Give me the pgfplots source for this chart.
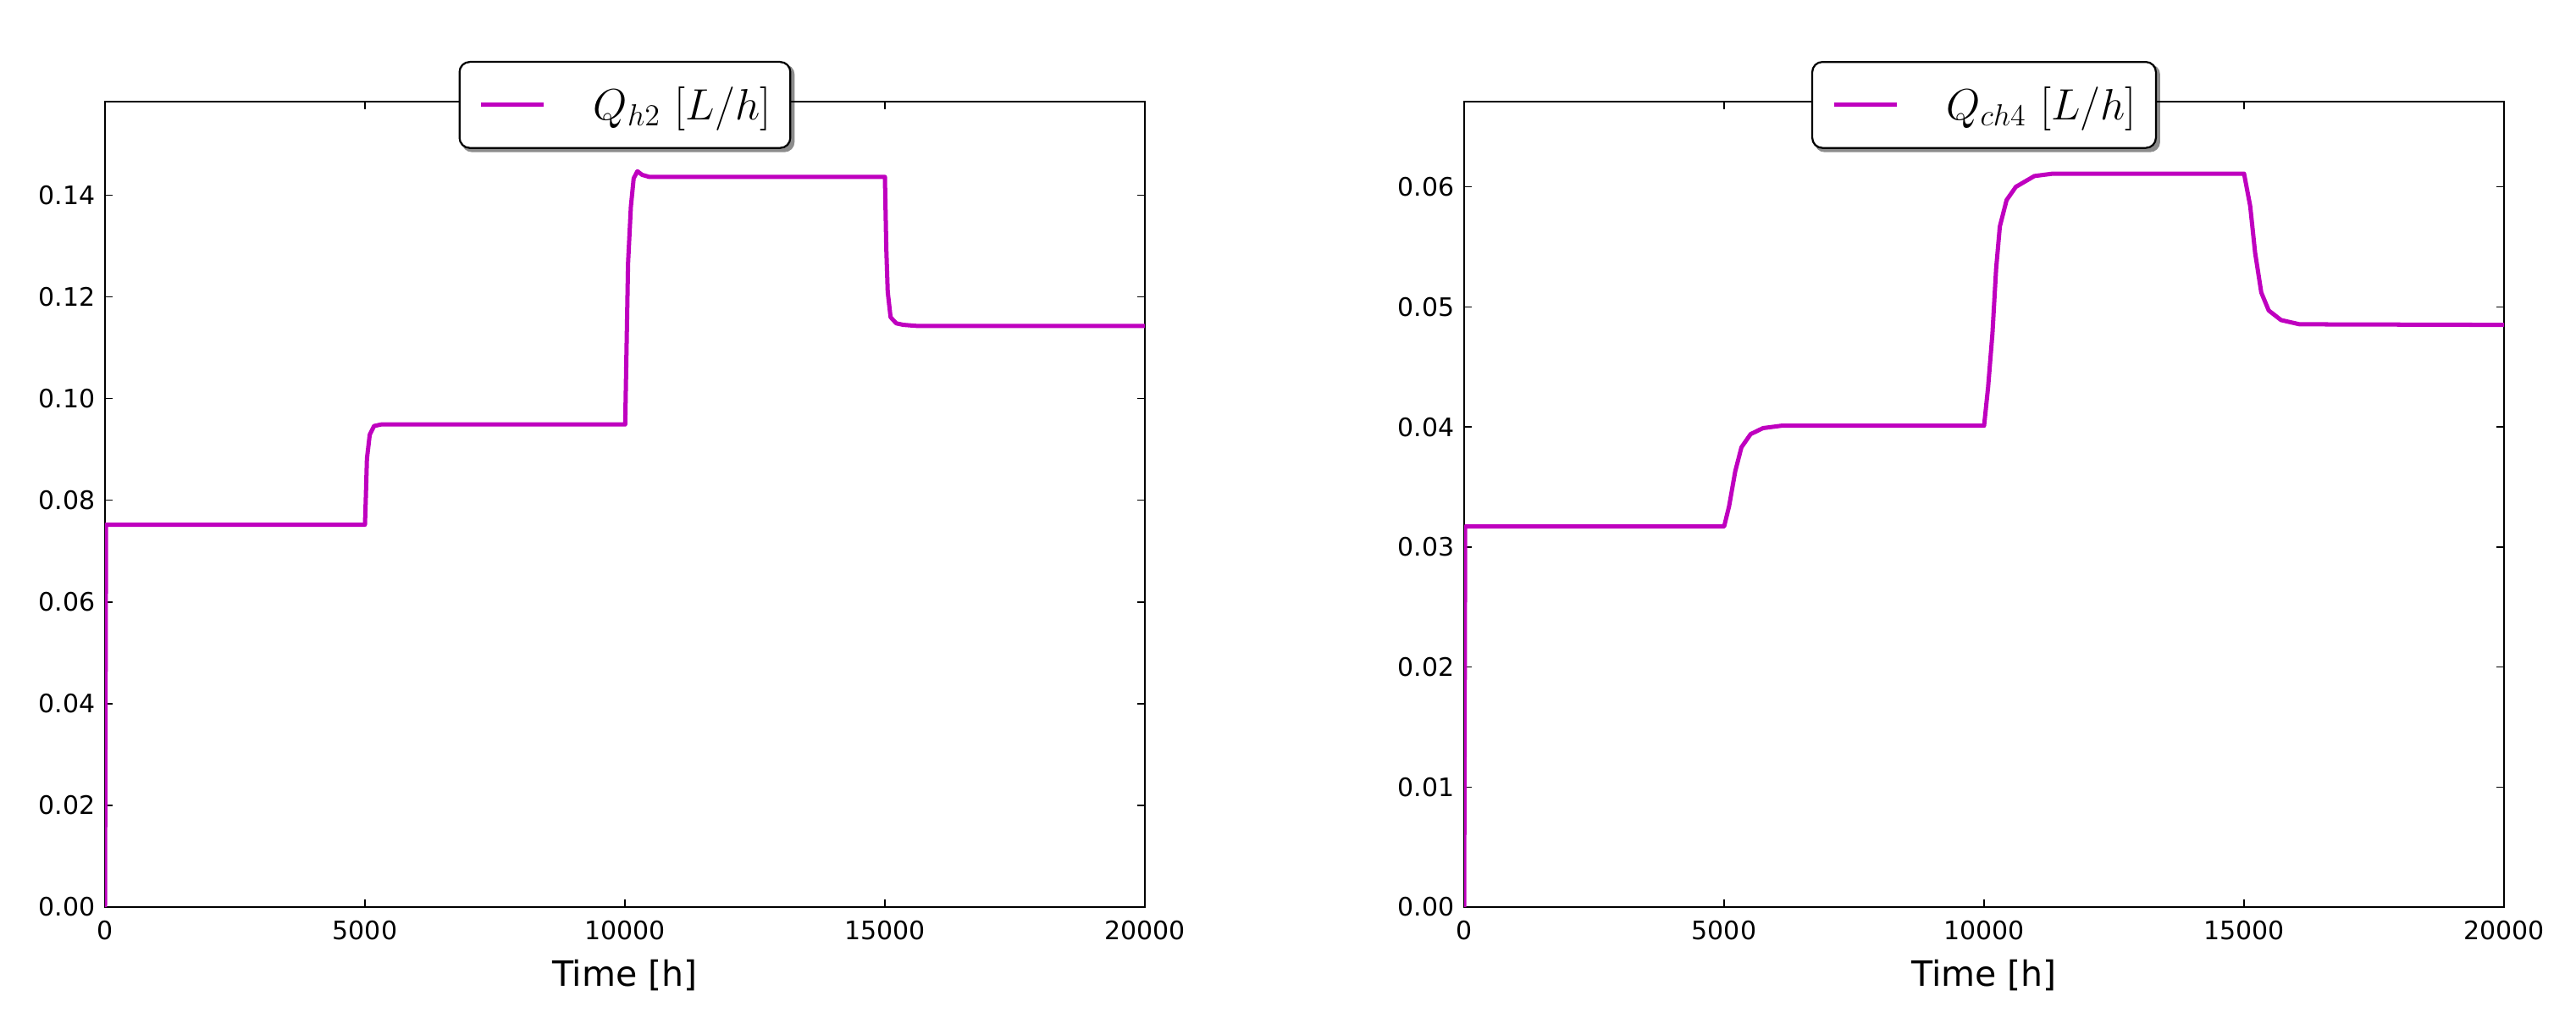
\documentclass[border=0pt]{standalone}
\usepackage{fontspec}
\setmainfont{DejaVu Sans}
\usepackage{pgfplots}
\pgfplotsset{compat=1.18}
\pgfdeclarelayer{background}
\pgfsetlayers{background,main}
\definecolor{mplm}{HTML}{BF00BF}

\pgfplotsset{
 myax/.style={
  scale only axis, width=409.33pt, height=317pt,
  xmin=0, xmax=20000, ymin=0,
  xtick={0,5000,10000,15000,20000},
  tick align=inside, tick pos=both,
  major tick length=3pt,
  every tick/.style={black, line width=0.5pt},
  axis line style={line width=0.7pt},
  tick label style={font=\fontsize{10}{12}\selectfont},
  /pgf/number format/assume math mode=true,
  scaled ticks=false,
  xticklabel style={/pgf/number format/1000 sep={}, anchor=north, inner sep=0pt, yshift=-5.3pt},
  yticklabel style={/pgf/number format/fixed, /pgf/number format/fixed zerofill, /pgf/number format/precision=2, anchor=east, inner sep=0pt, xshift=-3.7pt},
  xlabel={Time [h]},
  xlabel style={at={(axis description cs:0.5,0)}, anchor=base, yshift=-31.3pt, font=\fontsize{13.7}{16}\selectfont},
  legend style={at={(0.5,1)}, anchor=center, yshift=-1.3pt, draw=black, line width=0.75pt, rounded corners=4pt, fill=white,
    inner xsep=7.7pt, inner ysep=9.7pt, font=\fontsize{17}{20}\selectfont, nodes={inner sep=0pt}},
  legend image code/.code={\draw[#1] (0pt,0pt) -- (24.7pt,0pt);},
 }
}

\begin{document}
\begin{tikzpicture}
\begin{axis}[myax, at={(0pt,0pt)}, anchor=south west,
  ymax=0.1584, ytick={0,0.02,0.04,0.06,0.08,0.10,0.12,0.14},
  legend style={name=legA}]
\addplot[mplm, line width=1.67pt, line join=round] coordinates {
(0,0) (20,0.0752) (5000,0.0752) (5015,0.0800) (5038,0.0882) (5092,0.0929) (5174,0.0946) (5309,0.0949)
(10005,0.0949) (10060,0.1266) (10114,0.1377) (10168,0.1433) (10239,0.1447) (10331,0.1440) (10467,0.1436)
(15000,0.1436) (15027,0.1294) (15054,0.1210) (15109,0.1160) (15218,0.1148) (15354,0.1145) (15600,0.1143)
(20000,0.1143)
};
\addlegendentry{\hspace*{18.7pt}$Q_{h2}\ [L/h]$}
\end{axis}
\begin{axis}[myax, at={(535pt,0pt)}, anchor=south west,
  ymax=0.0671, ytick={0,0.01,0.02,0.03,0.04,0.05,0.06},
  legend style={name=legB}]
\addplot[mplm, line width=1.67pt, line join=round] coordinates {
(0,0) (20,0.0317) (5000,0.0317) (5096,0.0334) (5214,0.0363) (5333,0.0383) (5510,0.0394) (5748,0.0399) (6104,0.0401)
(10000,0.0401) (10077,0.0433) (10161,0.0478) (10232,0.0532) (10303,0.0567) (10433,0.0589) (10611,0.0600) (10967,0.0609) (11323,0.0611)
(15000,0.0611) (15118,0.0584) (15213,0.0545) (15331,0.0512) (15474,0.0497) (15712,0.0489) (16067,0.04855)
(20000,0.0485)
};
\addlegendentry{\hspace*{18.7pt}$Q_{ch4}\ [L/h]$}
\end{axis}
\begin{pgfonlayer}{background}
\fill[black!45, rounded corners=4pt] ([shift={(1.3pt,-1.3pt)}]legA.south west) rectangle ([shift={(1.3pt,-1.3pt)}]legA.north east);
\fill[black!45, rounded corners=4pt] ([shift={(1.3pt,-1.3pt)}]legB.south west) rectangle ([shift={(1.3pt,-1.3pt)}]legB.north east);
\end{pgfonlayer}
\pgfresetboundingbox
\path (-41.33pt,-47.67pt) rectangle (972.67pt,357pt);
\end{tikzpicture}
\end{document}
